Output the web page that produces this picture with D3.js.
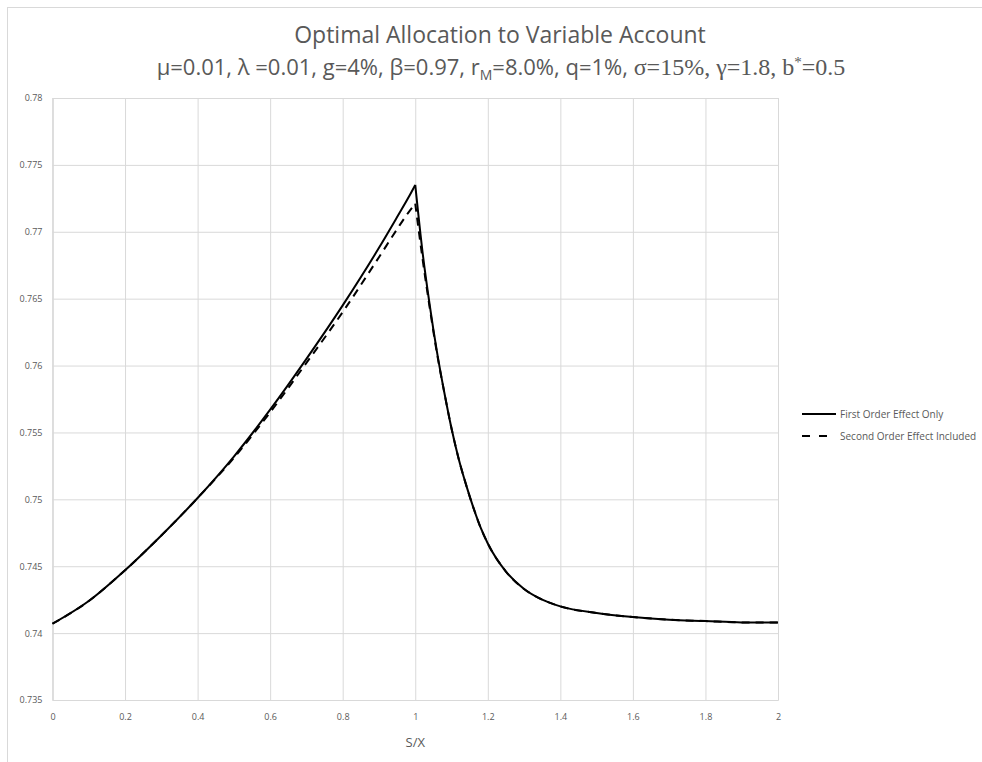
<!DOCTYPE html>
<html>
<head>
<meta charset="utf-8">
<script src="https://cdn.jsdelivr.net/npm/d3@7"></script>
<style>
  body { margin: 0; background: #fff; }
  svg { display: block; }
  .serif { font-family: "Liberation Serif", "Times New Roman", serif; }
</style>
</head>
<body>
<div id="chart"></div>
<script>
// S/X values and the two allocation curves
const sx = [0, 0.1, 0.2, 0.3, 0.4, 0.5, 0.6, 0.7, 0.8, 0.9, 0.95, 0.98, 1.0,
  1.02, 1.04, 1.06, 1.08, 1.1, 1.12, 1.14, 1.16, 1.18, 1.2, 1.25, 1.3, 1.35,
  1.4, 1.5, 1.6, 1.7, 1.8, 1.9, 2.0];
const firstOrder = [0.7407, 0.7424, 0.7447, 0.7473, 0.7501, 0.7532, 0.7567, 0.7605, 0.7645, 0.7688, 0.7711, 0.7725, 0.7735,
  0.7685, 0.7645, 0.7610, 0.7580, 0.7553, 0.7530, 0.7511, 0.7494, 0.7479, 0.7467, 0.7446, 0.7433, 0.7425,
  0.7420, 0.7415, 0.7412, 0.7410, 0.7409, 0.7408, 0.7408];
const secondOrder = [0.7407, 0.7424, 0.7447, 0.7473, 0.7501, 0.7531, 0.7565, 0.7602, 0.7640, 0.7681, 0.7702, 0.7714, 0.7721,
  0.7680, 0.7643, 0.7609, 0.7580, 0.7553, 0.7530, 0.7511, 0.7494, 0.7479, 0.7467, 0.7446, 0.7433, 0.7425,
  0.7420, 0.7415, 0.7412, 0.7410, 0.7409, 0.7408, 0.7408];

const xTicks = [0, 0.2, 0.4, 0.6, 0.8, 1, 1.2, 1.4, 1.6, 1.8, 2];
const yTicks = [0.735, 0.74, 0.745, 0.75, 0.755, 0.76, 0.765, 0.77, 0.775, 0.78];

const seriesNames = ["First Order Effect Only", "Second Order Effect Included"];

const width = 982, height = 762;
const plot = { left: 52.5, right: 778, top: 98, bottom: 700 };
const gray = "#595959";
const gridColor = "#d9d9d9";

const svg = d3.select("#chart").append("svg")
  .attr("width", width)
  .attr("height", height);

// chart area border
svg.append("rect")
  .attr("x", 7.5).attr("y", 7.5)
  .attr("width", 1000).attr("height", 1000)
  .attr("fill", "none")
  .attr("stroke", gridColor);

const x = d3.scaleLinear().domain([0, 2]).range([plot.left, plot.right]);
const y = d3.scaleLinear().domain([0.735, 0.78]).range([plot.bottom, plot.top]);

// gridlines
svg.append("g")
  .attr("transform", "translate(0," + plot.bottom + ")")
  .call(d3.axisBottom(x).tickValues(xTicks).tickSize(-(plot.bottom - plot.top)).tickFormat(d3.format("~g")).tickPadding(14))
  .call(g => g.select(".domain").attr("stroke", gridColor))
  .call(g => g.selectAll(".tick line").attr("stroke", gridColor))
  .call(g => g.selectAll(".tick text")
    .attr("fill", gray)
    .style("font-family", "'Open Sans', sans-serif")
    .style("font-size", "9px"));

svg.append("g")
  .attr("transform", "translate(" + plot.left + ",0)")
  .call(d3.axisLeft(y).tickValues(yTicks).tickSize(-(plot.right - plot.left)).tickFormat(d3.format("~g")).tickPadding(10))
  .call(g => g.select(".domain").attr("stroke", gridColor))
  .call(g => g.selectAll(".tick line").attr("stroke", gridColor))
  .call(g => g.selectAll(".tick text")
    .attr("fill", gray)
    .style("font-family", "'Open Sans', sans-serif")
    .style("font-size", "9px"));

// axis title
svg.append("text")
  .attr("x", (plot.left + plot.right) / 2)
  .attr("y", 747)
  .attr("text-anchor", "middle")
  .attr("fill", gray)
  .style("font-family", "'Open Sans', sans-serif")
  .style("font-size", "13px")
  .text("S/X");

// curves: drawn as two pieces so the cusp at S/X = 1 stays sharp
const line = d3.line()
  .x(d => x(d[0]))
  .y(d => y(d[1]))
  .curve(d3.curveMonotoneX);

const peak = sx.indexOf(1.0);
function pieces(values) {
  const pts = sx.map((s, i) => [s, values[i]]);
  return [pts.slice(0, peak + 1), pts.slice(peak)];
}

pieces(secondOrder).forEach(p => {
  svg.append("path")
    .datum(p)
    .attr("d", line)
    .attr("fill", "none")
    .attr("stroke", "#000")
    .attr("stroke-width", 2)
    .attr("stroke-dasharray", "8,6");
});

pieces(firstOrder).forEach(p => {
  svg.append("path")
    .datum(p)
    .attr("d", line)
    .attr("fill", "none")
    .attr("stroke", "#000")
    .attr("stroke-width", 2);
});

// title
const title = svg.append("g").attr("fill", gray);
title.append("text")
  .attr("x", 500).attr("y", 43)
  .attr("text-anchor", "middle")
  .style("font-family", "'Open Sans', sans-serif")
  .style("font-size", "23px")
  .text("Optimal Allocation to Variable Account");

const sub = title.append("text")
  .attr("x", 501).attr("y", 75)
  .attr("text-anchor", "middle")
  .style("font-family", "'Open Sans', sans-serif")
  .style("font-size", "22px");
sub.append("tspan").text("μ=0.01, λ =0.01, g=4%, β=0.97, r");
sub.append("tspan").attr("dy", 5).style("font-size", "14px").text("M");
sub.append("tspan").attr("dy", -5).text("=8.0%, q=1%, ");
sub.append("tspan").attr("class", "serif").style("font-size", "24px").text("σ=15%, γ=1.8, b");
sub.append("tspan").attr("class", "serif").attr("dy", -8).style("font-size", "15px").text("*");
sub.append("tspan").attr("class", "serif").attr("dy", 8).style("font-size", "24px").text("=0.5");

// legend
const legend = svg.append("g").attr("transform", "translate(802,414)");
seriesNames.forEach((name, i) => {
  const row = legend.append("g").attr("transform", "translate(0," + i * 22 + ")");
  row.append("line")
    .attr("x1", 0).attr("x2", 34)
    .attr("stroke", "#000")
    .attr("stroke-width", 2)
    .attr("stroke-dasharray", i === 0 ? null : "8,9");
  row.append("text")
    .attr("x", 38).attr("y", 3.5)
    .attr("fill", gray)
    .style("font-family", "'Open Sans', sans-serif")
    .style("font-size", "10px")
    .text(name);
});
</script>
</body>
</html>
